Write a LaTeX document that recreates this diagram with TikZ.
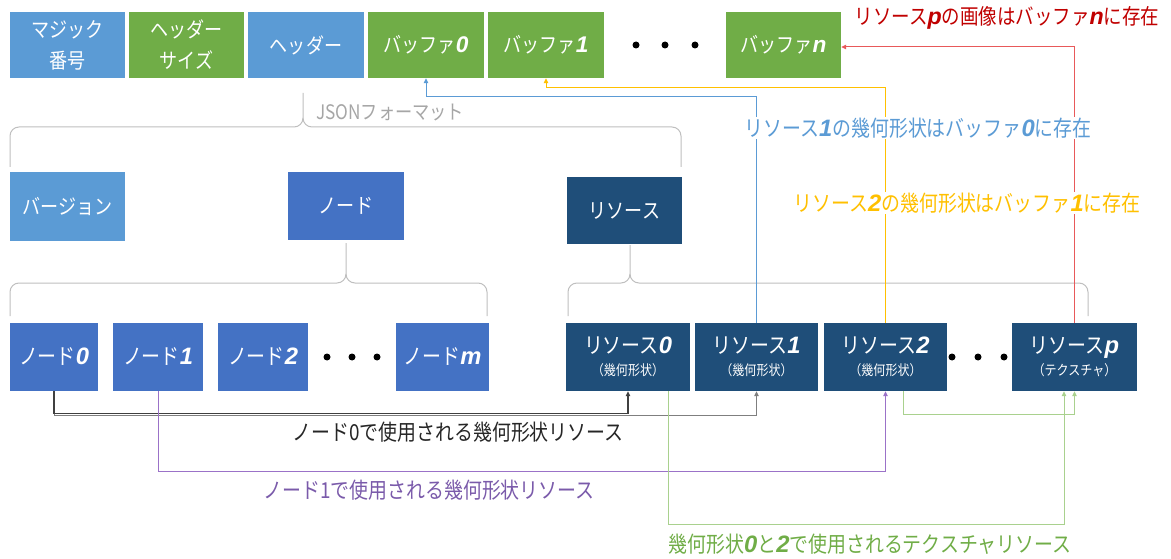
\documentclass[tikz,border=0pt]{standalone}
\usepackage{fontspec}
\setmainfont{Noto Sans CJK JP}[FakeStretch=0.86]
\newfontfamily\latbi{Liberation Sans}[Scale=1.08]
\newcommand\bi[1]{{\latbi\bfseries\itshape #1}}
\newcommand\fs[2]{\fontsize{#1}{#2}\selectfont}
\usetikzlibrary{arrows.meta}
\definecolor{cLB}{HTML}{5B9BD5}
\definecolor{cGR}{HTML}{70AD47}
\definecolor{cMB}{HTML}{4472C4}
\definecolor{cDB}{HTML}{1F4E79}
\definecolor{cBr}{HTML}{BFBFBF}
\definecolor{cJS}{HTML}{A6A6A6}
\definecolor{cYe}{HTML}{FFC000}
\definecolor{cRedL}{HTML}{E8595A}
\definecolor{cRedT}{HTML}{C00000}
\definecolor{cPuL}{HTML}{9B72C8}
\definecolor{cPuT}{HTML}{7A5AAA}
\definecolor{cGrL}{HTML}{A9D18E}
\definecolor{cBk}{HTML}{404040}
\definecolor{cBk2}{HTML}{7F7F7F}
\newcommand\mybrace[6]{%
 \draw[brc] (#1,#5) -- (#1,#4+9) to[out=90,in=180] (#1+9,#4) -- (#3-9,#4) to[out=0,in=-90] (#3,#4-9) -- (#3,#6);
 \draw[brc] (#2,#5) -- (#2,#4+9) to[out=90,in=0] (#2-9,#4) -- (#3+9,#4) to[out=180,in=-90] (#3,#4-9);
}
\begin{document}
\begin{tikzpicture}[x=1pt,y=-1pt,
  box/.style={rectangle, inner sep=0pt, text=white, align=center, font=\fs{21}{31}},
  topbox/.style={box, minimum width=115pt, minimum height=66pt},
  rowbox/.style={box, minimum height=68pt, font=\fs{22}{25}},
  dotn/.style={circle, fill=black, inner sep=0pt, minimum size=7pt},
  brc/.style={cBr, line width=1pt},
  arr/.style={-{Triangle[length=5pt,width=4.5pt]}, line width=1pt},
  lab/.style={font=\fs{22}{24}, inner sep=1pt}
]
\useasboundingbox (0,0) rectangle (1171,559);
% top row
\node[topbox, fill=cLB] (magic) at (67.5,45) {マジック\\番号};
\node[topbox, fill=cGR] (hsize) at (186.5,45) {ヘッダー\\サイズ};
\node[topbox, fill=cLB, minimum width=116pt] (header) at (306,45) {ヘッダー};
\node[topbox, fill=cGR, minimum width=116pt] (buf0) at (426,45) {バッファ\bi{0}};
\node[topbox, fill=cGR, minimum width=116pt] (buf1) at (546,45) {バッファ\bi{1}};
\node[dotn] (td1) at (636,45) {};
\node[dotn] (td2) at (665,45) {};
\node[dotn] (td3) at (695,45) {};
\node[topbox, fill=cGR] (bufn) at (783.5,45) {バッファ\bi{n}};
% second row
\node[box, fill=cLB, minimum width=115pt, minimum height=69pt] (ver) at (67.5,206.5) {バージョン};
\node[box, fill=cMB, minimum width=116pt, minimum height=68pt] (node) at (346,206) {ノード};
\node[box, fill=cDB, minimum width=115pt, minimum height=67pt] (res) at (624.5,210.5) {リソース};
% third row
\node[rowbox, fill=cMB, minimum width=88pt] (n0) at (54,357) {ノード\bi{0}};
\node[rowbox, fill=cMB, minimum width=90pt] (n1) at (158,357) {ノード\bi{1}};
\node[rowbox, fill=cMB, minimum width=90pt] (n2) at (263,357) {ノード\bi{2}};
\node[dotn] (nd1) at (327,357) {};
\node[dotn] (nd2) at (352,357) {};
\node[dotn] (nd3) at (377,357) {};
\node[rowbox, fill=cMB, minimum width=93pt] (nm) at (442.5,357) {ノード\bi{m}};
\node[rowbox, fill=cDB, minimum width=124pt] (r0) at (628,357) {リソース\bi{0}\\[-3pt]{\fs{14}{16}（幾何形状）}};
\node[rowbox, fill=cDB, minimum width=123pt] (r1) at (756.5,357) {リソース\bi{1}\\[-3pt]{\fs{14}{16}（幾何形状）}};
\node[rowbox, fill=cDB, minimum width=123pt] (r2) at (885.5,357) {リソース\bi{2}\\[-3pt]{\fs{14}{16}（幾何形状）}};
\node[dotn] (rd1) at (952,357) {};
\node[dotn] (rd2) at (978,357) {};
\node[dotn] (rd3) at (1004,357) {};
\node[rowbox, fill=cDB, minimum width=125pt] (rp) at (1074.5,357) {リソース\bi{p}\\[-3pt]{\fs{14}{16}（テクスチャ）}};
% braces
\mybrace{10}{681}{303}{127}{167}{93}
\mybrace{10}{487}{346}{283}{316}{243}
\mybrace{568}{1088}{630}{283}{316}{245}
\node[font=\fs{20}{22}, text=cJS, anchor=west, inner sep=0pt] (json) at (316,113) {JSONフォーマット};
% connectors
\draw[arr, cBk2] (n0.south) -- ++(0,24) -| (r1.south);
\draw[arr, cBk, line width=1.3pt] (n0.south) -- ++(0,22) -| (r0.south);
\draw[arr, cPuL] (n1.south) -- ++(0,80) -| (r2.south);
\draw[arr, cGrL] ([xshift=40pt]r0.south) -- ++(0,133) -| ([xshift=-10.5pt]rp.south);
\draw[arr, cGrL] ([xshift=17.5pt]r2.south) -- ++(0,23) -| (rp.south);
\draw[arr, cLB] (r1.north) -- ++(0,-226) -| (buf0.south);
\draw[arr, cYe] (r2.north) -- ++(0,-235) -| (buf1.south);
\draw[arr, cRedL] (rp.north) |- ([yshift=-2pt]bufn.east);
% labels
\node[lab, text=cRedT, font=\fs{21.5}{24}] (lred) at (1007,18) {リソース\bi{p}の画像はバッファ\bi{n}に存在};
\node[lab, text=cLB, fill=white] (lblue) at (918,128) {リソース\bi{1}の幾何形状はバッファ\bi{0}に存在};
\node[lab, text=cYe, fill=white] (lyel) at (967,203) {リソース\bi{2}の幾何形状はバッファ\bi{1}に存在};
\node[lab, text=black!85] (lblk) at (458,432) {ノード0で使用される幾何形状リソース};
\node[lab, text=cPuT] (lpur) at (429,490) {ノード1で使用される幾何形状リソース};
\node[lab, text=cGR] (lgrn) at (870,544) {幾何形状\bi{0}と\bi{2}で使用されるテクスチャリソース};
\end{tikzpicture}
\end{document}
